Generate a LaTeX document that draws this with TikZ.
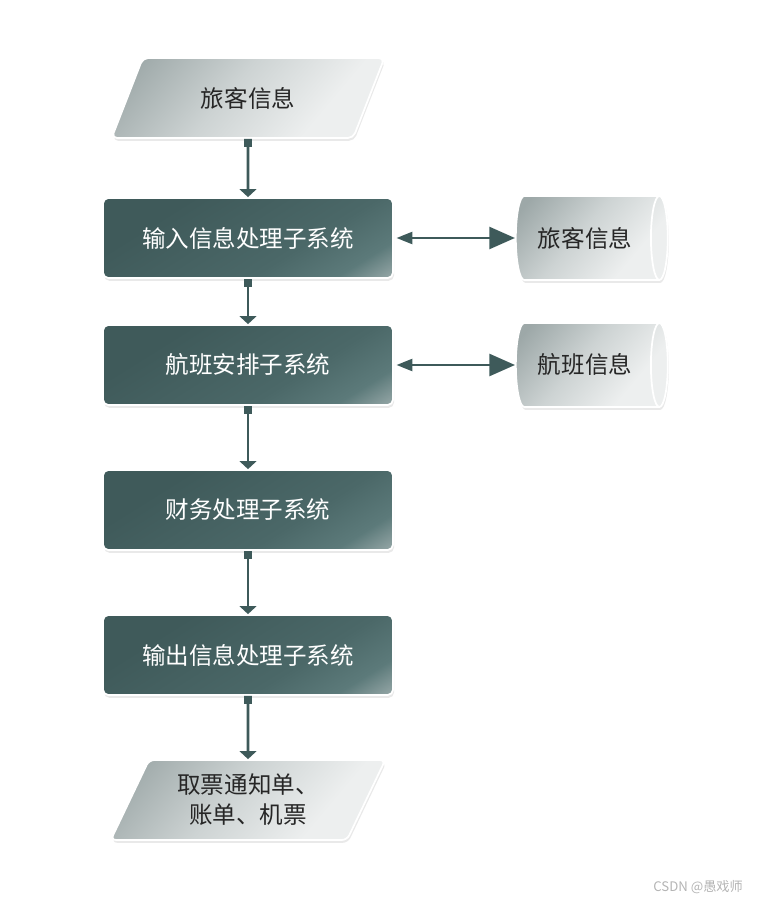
\documentclass[tikz,border=0pt]{standalone}
\usepackage{fontspec}
\setmainfont{Noto Sans CJK SC}
\newfontfamily\cjk{Noto Sans CJK SC}
\usetikzlibrary{arrows.meta,shapes.geometric,shadows}
\definecolor{boxdark}{HTML}{3F5A5A}
\definecolor{boxdark2}{HTML}{4B6868}
\definecolor{boxmid}{HTML}{5C7A7A}
\definecolor{boxlight}{HTML}{B3BEBE}
\definecolor{arrcol}{HTML}{3E5A5A}
\definecolor{pdark}{HTML}{9DA8A8}
\definecolor{pmid}{HTML}{CDD3D3}
\definecolor{plight}{HTML}{EDEFEF}
\definecolor{wmark}{HTML}{B4B4B4}
\pgfdeclareverticalshading{boxshade}{100bp}{color(0bp)=(boxlight); color(11bp)=(boxlight); color(25bp)=(boxmid); color(39bp)=(boxdark2); color(70bp)=(boxdark); color(100bp)=(boxdark)}
\pgfdeclareverticalshading{pshade}{100bp}{color(0bp)=(plight); color(32bp)=(plight); color(55bp)=(pmid); color(80bp)=(pdark); color(100bp)=(pdark)}
\tikzset{
  sh/.style={drop shadow={opacity=0.25, fill=gray!70, shadow xshift=0.6pt, shadow yshift=-1.6pt}},
  procbox/.style={rectangle, rounded corners=3pt, minimum width=5.8cm, minimum height=1.6cm,
    shading=boxshade, shading angle=32, draw=white, line width=1pt, sh,
    text=white, font=\cjk\fontsize{13.4pt}{17pt}\selectfont},
  iobox/.style={trapezium, trapezium left angle=65, trapezium right angle=115, trapezium stretches=true,
    rounded corners=3pt, minimum width=5.5cm, minimum height=1.6cm,
    shading=pshade, shading angle=50, draw=white, line width=1pt, sh,
    text=black!85, font=\cjk\fontsize{13.4pt}{17pt}\selectfont, align=center},
  dbstore/.style={cylinder, shape aspect=0.5, minimum width=1.68cm, minimum height=3.04cm,
    shading=pshade, shading angle=50, draw=white, line width=1pt, sh,
    text=black!85, font=\cjk\fontsize{13.4pt}{17pt}\selectfont},
  flowarr/.style={draw=arrcol, line width=1.5pt,
    {Square[length=4.5pt,width=4.5pt]}-{Triangle[length=4.6pt,width=9.6pt]}},
  duplex/.style={draw=arrcol, line width=1.3pt, shorten <=1.5pt,
    {Triangle[length=9pt,width=6.8pt]}-{Triangle[length=14.5pt,width=12.5pt]}},
}
\begin{document}
\begin{tikzpicture}[x=0.02cm, y=-0.02cm]
\useasboundingbox (0,0) rectangle (757,902);
\node[iobox] (in) at (248,98) {旅客信息};
\node[procbox] (b1) at (248,238) {输入信息处理子系统};
\node[procbox] (b2) at (248,365) {航班安排子系统};
\node[procbox] (b3) at (248,510) {财务处理子系统};
\node[procbox] (b4) at (248,655) {输出信息处理子系统};
\node[iobox] (out) at (248,800) {取票通知单、\\账单、机票};
\node[dbstore] (c1) at (585,238) {旅客信息};
\node[dbstore] (c2) at (585,365) {航班信息};
\draw[flowarr] (in.south) -- (b1.north);
\draw[flowarr] (b1.south) -- (b2.north);
\draw[flowarr] (b2.south) -- (b3.north);
\draw[flowarr] (b3.south) -- (b4.north);
\draw[flowarr] (b4.south) -- (out.north);
\draw[duplex] (b1.east) -- (c1.west);
\draw[duplex] (b2.east) -- (c2.west);
\node[anchor=east, text=wmark, font=\cjk\fontsize{7.5pt}{9pt}\selectfont] (wm) at (749,887) {CSDN @愚戏师};
\end{tikzpicture}
\end{document}
